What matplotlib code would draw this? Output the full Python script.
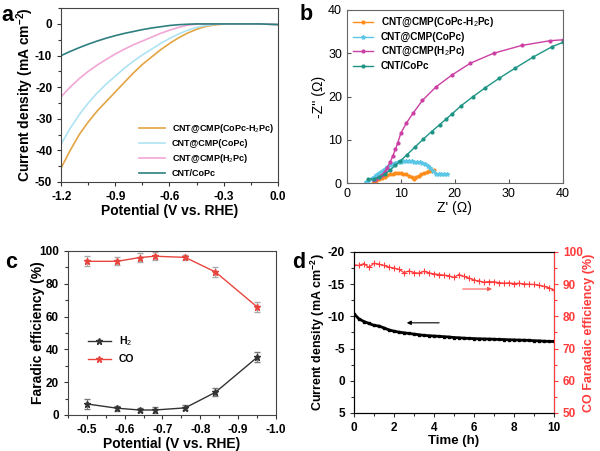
import numpy as np
import matplotlib
matplotlib.use("Agg")
import matplotlib.pyplot as plt
from matplotlib.ticker import MultipleLocator

plt.rcParams["font.family"] = ["Liberation Sans", "DejaVu Sans"]
plt.rcParams["mathtext.fontset"] = "custom"
plt.rcParams["mathtext.rm"] = "Liberation Sans"
plt.rcParams["mathtext.bf"] = "Liberation Sans:bold"
plt.rcParams["axes.unicode_minus"] = False

# ---- panel a: LSV curves ----
lsv_potential = [-1.2, -1.15, -1.1, -1.05, -1.0, -0.95, -0.9, -0.85, -0.8, -0.75, -0.7,
                 -0.65, -0.6, -0.55, -0.5, -0.45, -0.4, -0.35, -0.3, -0.25, -0.2,
                 -0.1, 0.0]
lsv_mix = [-45.5, -40.0, -35.0, -31.0, -27.5, -24.5, -21.5, -18.5, -15.5, -12.8, -10.5,
           -8.2, -6.2, -4.4, -2.9, -1.7, -0.8, -0.3, -0.05, 0.0, 0.0, 0.0, -0.2]
lsv_copc = [-38.0, -33.0, -28.7, -25.0, -21.8, -19.0, -16.5, -14.0, -11.8, -9.8, -8.0,
            -6.2, -4.6, -3.2, -2.0, -1.1, -0.5, -0.15, 0.0, 0.0, 0.0, 0.0, -0.2]
lsv_h2pc = [-23.0, -20.0, -17.3, -15.0, -13.0, -11.2, -9.5, -8.0, -6.6, -5.4, -4.2,
            -3.0, -2.0, -1.1, -0.4, -0.1, 0.0, 0.0, 0.0, 0.0, 0.0, 0.0, -0.2]
lsv_cnt = [-10.0, -8.7, -7.5, -6.4, -5.4, -4.5, -3.7, -3.0, -2.4, -1.8, -1.3,
           -0.9, -0.5, -0.25, -0.1, 0.0, 0.0, 0.0, 0.0, 0.0, 0.0, 0.0, -0.2]

# ---- panel b: Nyquist ----
nyq_mix_x = [4.8, 5.0, 5.5, 6.0, 6.5, 7.0, 7.5, 8.0, 8.5, 9.0, 9.5, 10.0, 10.5, 11.0,
             11.5, 12.0, 12.4, 12.8, 13.3, 13.8, 14.3, 14.8, 15.3, 15.8, 16.1]
nyq_mix_y = [0.0, 0.3, 0.6, 0.9, 1.2, 1.5, 1.8, 2.0, 2.15, 2.25, 2.3, 2.3, 2.2, 2.0,
             1.7, 1.3, 1.0, 1.3, 1.7, 2.0, 2.3, 2.5, 2.7, 2.9, 3.0]
nyq_copc_x = [3.5, 4.0, 4.5, 5.0, 5.5, 6.0, 6.5, 7.0, 7.5, 8.0, 8.5, 9.0, 9.5, 10.0,
              10.5, 11.0, 11.5, 12.0, 12.5, 13.0, 13.5, 14.0, 14.5, 15.0, 15.5, 16.0,
              16.5, 17.0, 17.5, 18.0, 18.5]
nyq_copc_y = [0.3, 0.6, 1.0, 1.4, 1.8, 2.3, 2.8, 3.3, 3.8, 4.2, 4.5, 4.7, 4.85, 4.95,
              5.0, 5.0, 5.0, 5.0, 4.95, 4.9, 4.8, 4.6, 4.3, 3.9, 3.4, 2.8, 2.2, 2.0,
              2.1, 2.1, 2.0]
nyq_h2pc_x = [5.0, 5.5, 6.0, 6.5, 7.0, 7.5, 8.0, 8.5, 9.0, 9.4, 10.0, 11.0, 12.3, 14.0,
              16.5, 19.5, 22.9, 27.2, 32.4, 37.7, 40.0]
nyq_h2pc_y = [0.8, 1.0, 1.3, 1.8, 2.6, 3.6, 4.8, 6.2, 7.8, 9.2, 11.5, 13.8, 16.2, 19.1,
              22.2, 25.0, 27.7, 30.0, 31.8, 32.9, 33.1]
nyq_cnt_x = [4.0, 5.0, 6.0, 7.0, 8.0, 9.0, 9.8, 11.1, 12.6, 14.2, 15.7, 17.2, 18.4,
             19.5, 21.2, 23.3, 25.5, 28.2, 31.1, 34.5, 38.0, 40.0]
nyq_cnt_y = [0.9, 1.0, 1.3, 2.0, 3.0, 4.1, 5.0, 6.5, 8.3, 10.2, 11.9, 13.5, 14.8,
             16.0, 17.9, 19.9, 21.9, 24.2, 26.5, 29.1, 31.5, 32.5]

# ---- panel c: Faradaic efficiency ----
fe_potential = [-0.5, -0.58, -0.64, -0.68, -0.76, -0.84, -0.95]
fe_h2 = [6.7, 4.1, 3.0, 3.0, 4.3, 13.8, 35.1]
fe_h2_err = [3.0, 1.5, 1.5, 2.0, 1.5, 2.5, 3.0]
fe_co = [93.7, 93.7, 96.0, 96.8, 96.1, 87.2, 65.9]
fe_co_err = [3.0, 2.5, 2.5, 2.5, 1.5, 3.0, 3.0]

# ---- panel d: stability ----
stab_time = [0.0, 0.25, 0.5, 0.75, 1.0, 1.25, 1.5, 1.75, 2.0, 2.25, 2.5, 2.75, 3.0,
             3.25, 3.5, 3.75, 4.0, 4.25, 4.5, 4.75, 5.0, 5.25, 5.5, 5.75, 6.0, 6.25,
             6.5, 6.75, 7.0, 7.25, 7.5, 7.75, 8.0, 8.25, 8.5, 8.75, 9.0, 9.25, 9.5,
             9.75, 10.0]
stab_j = [-10.4, -9.6, -9.2, -8.9, -8.6, -8.5, -8.2, -7.9, -7.7, -7.55, -7.45, -7.35,
          -7.25, -7.15, -7.05, -7.0, -6.95, -6.9, -6.85, -6.8, -6.72, -6.68, -6.62,
          -6.58, -6.55, -6.52, -6.5, -6.48, -6.45, -6.42, -6.4, -6.37, -6.35, -6.32,
          -6.3, -6.28, -6.22, -6.2, -6.15, -6.12, -6.1]
stab_fe = [96.0, 95.8, 96.4, 95.2, 96.5, 96.2, 95.8, 95.3, 95.0, 94.6, 93.6, 94.1,
           93.6, 93.4, 94.0, 93.5, 93.2, 93.0, 92.8, 92.6, 92.1, 93.0, 92.4, 91.9,
           91.3, 91.0, 90.6, 90.8, 90.7, 90.5, 90.3, 90.4, 90.2, 90.3, 90.1, 90.0,
           89.9, 89.7, 89.3, 88.9, 88.2]

fig = plt.figure(figsize=(6.0, 4.51), dpi=100)
bold = dict(fontweight="bold")


def bold_ticks(ax):
    for lab in ax.get_xticklabels() + ax.get_yticklabels():
        lab.set_fontweight("bold")


# ===== a =====
ax = fig.add_axes([0.102, 0.5965, 0.361, 0.3855])
ax.plot(lsv_potential, lsv_mix, color="#e3a443", lw=1.2, label="CNT@CMP(CoPc-H$_2$Pc)")
ax.plot(lsv_potential, lsv_copc, color="#aee3f3", lw=1.2, label="CNT@CMP(CoPc)")
ax.plot(lsv_potential, lsv_h2pc, color="#f2a6d6", lw=1.2, label="CNT@CMP(H$_2$Pc)")
ax.plot(lsv_potential, lsv_cnt, color="#2f7f80", lw=1.2, label="CNT/CoPc")
ax.set_xlim(-1.2, 0.0)
ax.set_ylim(-50, 5)
ax.xaxis.set_minor_locator(MultipleLocator(0.15))
ax.yaxis.set_major_locator(MultipleLocator(10))
ax.yaxis.set_minor_locator(MultipleLocator(5))
ax.set_xticks([-1.2, -0.9, -0.6, -0.3, 0.0])
ax.set_xticklabels(["-1.2", "-0.9", "-0.6", "-0.3", "0.0"])
ax.tick_params(which="both", direction="out", labelsize=8.5, width=0.8, length=3,
               color="#333333")
ax.tick_params(which="minor", length=2)
bold_ticks(ax)
for s in ax.spines.values():
    s.set_color("#444444")
ax.set_xlabel("Potential (V vs. RHE)", fontsize=10, labelpad=1, **bold)
ax.set_ylabel("Current density (mA cm$^{\\mathbf{-2}}$)", fontsize=10, **bold)
ax.yaxis.set_label_coords(-0.118, 0.5)
leg = ax.legend(loc="lower right", fontsize=6.5, frameon=False, handlelength=2.8,
                labelspacing=0.45, borderaxespad=0.0)
for t in leg.get_texts():
    t.set_fontweight("bold")
fig.text(0.003, 0.965, "a", fontsize=15.5, va="center", **bold)

# ===== b =====
ax = fig.add_axes([0.578, 0.594, 0.36, 0.384])
ax.plot(nyq_mix_x, nyq_mix_y, color="#ff8c1a", lw=1.0, marker="o", ms=2,
        label="CNT@CMP(CoPc-H$_2$Pc)")
ax.plot(nyq_copc_x, nyq_copc_y, color="#5cc6e6", lw=1.0, marker="*", ms=3,
        label="CNT@CMP(CoPc)")
ax.plot(nyq_h2pc_x, nyq_h2pc_y, color="#cc3fa3", lw=1.0, marker="o", ms=2,
        label="CNT@CMP(H$_2$Pc)")
ax.plot(nyq_cnt_x, nyq_cnt_y, color="#1d9484", lw=1.0, marker="o", ms=2,
        label="CNT/CoPc")
ax.set_xlim(0, 40)
ax.set_ylim(0, 40)
ax.xaxis.set_major_locator(MultipleLocator(10))
ax.yaxis.set_major_locator(MultipleLocator(10))
ax.tick_params(which="both", direction="in", labelsize=9, width=0.8, length=3,
               color="#555555")
for s in ax.spines.values():
    s.set_color("#666666")
ax.set_xlabel("Z' (\u03a9)", fontsize=10, labelpad=1)
ax.set_ylabel("-Z'' (\u03a9)", fontsize=10)
ax.yaxis.set_label_coords(-0.095, 0.5)
leg = ax.legend(loc="upper left", fontsize=7.2, frameon=False, handlelength=2.0,
                labelspacing=0.3, borderaxespad=0.2)
for t in leg.get_texts():
    t.set_fontweight("bold")
fig.text(0.5, 0.967, "b", fontsize=15.5, va="center", **bold)

# ===== c =====
ax = fig.add_axes([0.113, 0.080, 0.347, 0.3635])
ax.errorbar(fe_potential, fe_h2, yerr=fe_h2_err, fmt="none", ecolor="#777777",
            elinewidth=0.8, capsize=2)
ax.errorbar(fe_potential, fe_co, yerr=fe_co_err, fmt="none", ecolor="#aaaaaa",
            elinewidth=0.8, capsize=2)
ax.plot(fe_potential, fe_h2, color="#333333", lw=1.0, marker="*", ms=5, label="H$_2$")
ax.plot(fe_potential, fe_co, color="#e8453f", lw=1.0, marker="*", ms=5, label="CO")
ax.set_xlim(-0.45, -1.0)
ax.set_ylim(0, 100)
ax.set_xticks([-0.5, -0.6, -0.7, -0.8, -0.9, -1.0])
ax.set_xticklabels(["-0.5", "-0.6", "-0.7", "-0.8", "-0.9", "-1.0"])
ax.xaxis.set_minor_locator(MultipleLocator(0.05))
ax.yaxis.set_major_locator(MultipleLocator(20))
ax.yaxis.set_minor_locator(MultipleLocator(10))
ax.tick_params(which="both", direction="out", labelsize=8.5, width=0.8, length=3,
               color="#333333")
ax.tick_params(which="minor", length=2)
bold_ticks(ax)
for s in ax.spines.values():
    s.set_color("#444444")
ax.set_xlabel("Potential (V vs. RHE)", fontsize=10, labelpad=1, **bold)
ax.set_ylabel("Faradic efficiency (%)", fontsize=10, **bold)
ax.yaxis.set_label_coords(-0.108, 0.5)
leg = ax.legend(loc="center left", bbox_to_anchor=(0.05, 0.40), fontsize=7.5,
                frameon=False, handlelength=2.2, labelspacing=0.6)
for t in leg.get_texts():
    t.set_fontweight("bold")
fig.text(0.008, 0.418, "c", fontsize=15.5, va="center", **bold)

# ===== d =====
ax = fig.add_axes([0.59, 0.0843, 0.333, 0.357])
ax.plot(stab_time, stab_j, color="black", lw=2.0, marker="s", ms=2)
ax.set_xlim(0, 10)
ax.set_ylim(5, -20)
ax.xaxis.set_major_locator(MultipleLocator(2))
ax.xaxis.set_minor_locator(MultipleLocator(1))
ax.yaxis.set_major_locator(MultipleLocator(5))
ax.yaxis.set_minor_locator(MultipleLocator(2.5))
ax.tick_params(which="both", direction="out", labelsize=8.5, width=0.8, length=3,
               color="#333333")
ax.tick_params(which="minor", length=2)
bold_ticks(ax)
ax.set_xlabel("Time (h)", fontsize=9.5, labelpad=1, **bold)
ax.set_ylabel("Current density (mA cm$^{\\mathbf{-2}}$)", fontsize=9, **bold)
ax.yaxis.set_label_coords(-0.135, 0.5)
ax.annotate("", xy=(2.5, -9.0), xytext=(4.4, -9.0),
            arrowprops=dict(arrowstyle="-|>", color="black", lw=0.8,
                            mutation_scale=6))

ax2 = ax.twinx()
ax2.plot(stab_time, stab_fe, color="#ff3b3b", lw=0.9, marker="+", ms=4, mew=0.8)
ax2.set_ylim(50, 100)
ax2.yaxis.set_major_locator(MultipleLocator(10))
ax2.yaxis.set_minor_locator(MultipleLocator(5))
ax2.tick_params(which="both", direction="out", labelsize=8.5, width=0.8, length=3,
                color="#ff3b3b", labelcolor="#ff3b3b")
ax2.tick_params(which="minor", length=2)
for lab in ax2.get_yticklabels():
    lab.set_fontweight("bold")
ax2.spines["right"].set_color("#ff3b3b")
ax2.set_ylabel("CO Faradaic efficiency (%)", fontsize=9, color="#ff3b3b", **bold)
ax2.yaxis.set_label_coords(1.145, 0.5)
ax2.annotate("", xy=(7.05, 88.5), xytext=(5.3, 88.5),
             arrowprops=dict(arrowstyle="-|>", color="#ff5a5a", lw=0.8,
                             mutation_scale=6))
fig.text(0.487, 0.418, "d", fontsize=15.5, va="center", **bold)

fig.savefig("out.png", dpi=100)
